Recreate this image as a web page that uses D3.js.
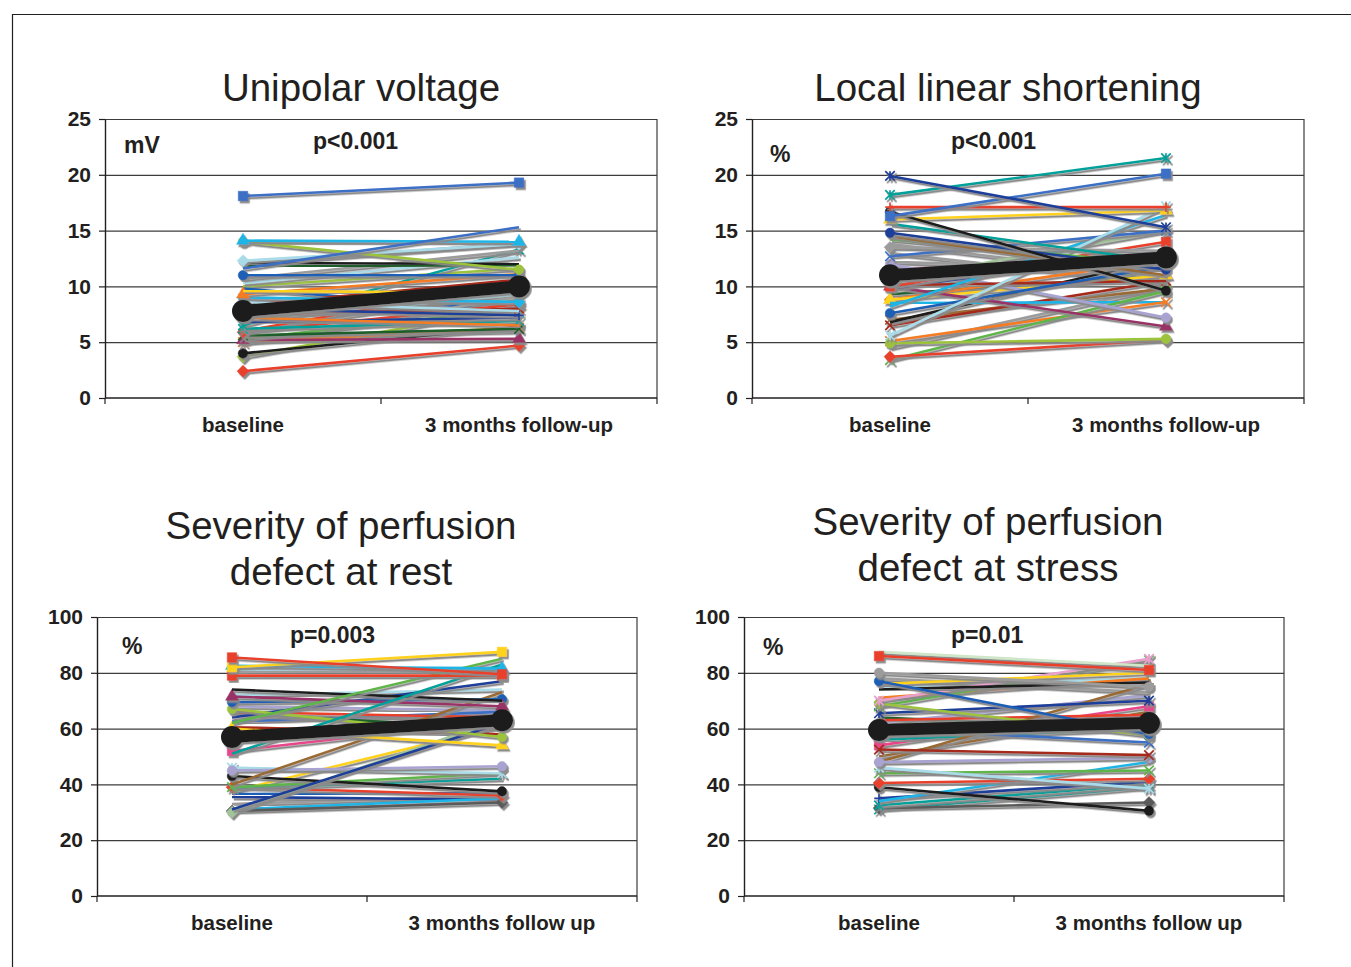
<!DOCTYPE html>
<html>
<head>
<meta charset="utf-8">
<script src="https://cdn.jsdelivr.net/npm/d3@7"></script>
<style>
  body { margin: 0; background: #fff; }
  text { font-family: "Liberation Sans", Arial, sans-serif; fill: #231f20; }
</style>
</head>
<body>
<script>
// categories
const categoriesUp = ['baseline', '3 months follow-up'];
const categoriesPerf = ['baseline', '3 months follow up'];

// tick labels
const ticksSmall = [0, 5, 10, 15, 20, 25];
const ticksPct = [0, 20, 40, 60, 80, 100];

// unipolar voltage (mV), one value per patient
const uniBaseline = [18.1, 11.6, 14.1, 14.0, 13.9, 12.3, 12.1, 11.8, 11.0, 10.7, 10.3, 9.6, 9.3, 9.0, 8.6, 8.3, 8.0, 7.5, 7.2, 6.8,
                     6.5, 6.2, 6.0, 5.9, 5.6, 5.3, 5.2, 5.0, 4.9, 4.0, 3.7, 2.4, 7.0, 6.0, 9.8, 5.5, 8.9, 12.0, 10.0];
const uniFollowUp = [19.3, 15.3, 14.0, 11.5, 13.8, 13.8, 12.0, 11.9, 11.0, 13.2, 12.6, 9.4, 11.1, 8.6, 7.8, 10.6, 7.4, 8.0, 6.5, 7.2,
                     13.3, 6.9, 10.3, 8.4, 6.2, 8.0, 5.3, 6.3, 9.1, 6.4, 8.1, 4.7, 9.3, 9.6, 7.8, 6.0, 8.5, 13.9, 11.6];
const uniMean = [7.8, 10.0];

// local linear shortening (%)
const llsBaseline = [19.9, 18.2, 16.3, 17.1, 16.7, 16.0, 15.6, 14.8, 14.5, 14.2, 13.5, 5.6, 12.7, 8.2, 10.0, 10.6, 7.6, 10.1, 9.8,
                     12.0, 10.0, 4.9, 3.7, 3.4, 5.1, 8.5, 8.8, 8.8, 6.8, 6.5, 13.8, 12.2, 9.3, 11.5, 7.0, 13.0, 4.5];
const llsFollowUp = [15.3, 21.5, 20.1, 17.1, 9.6, 16.8, 12.2, 11.5, 11.0, 12.0, 13.2, 17.2, 15.0, 16.4, 14.0, 15.0, 11.8, 10.5, 13.2,
                     7.2, 6.4, 5.3, 5.2, 9.6, 8.6, 8.6, 11.0, 12.4, 12.5, 10.5, 10.8, 11.5, 11.0, 12.8, 9.8, 10.2, 10.0];
const llsMean = [11.0, 12.6];

// severity of perfusion defect at rest (%)
const restBaseline = [85.5, 82.0, 82.5, 79.0, 62.0, 51.0, 74.0, 71.5, 69.5, 67.0, 64.0, 60.0, 52.0, 40.0, 31.0, 30.0, 45.0, 46.0, 43.0,
                      39.0, 38.5, 39.0, 30.5, 31.0, 36.5, 35.5, 80.5, 81.0, 66.0, 65.5, 62.5, 60.5, 68.0, 63.0, 37.5, 72.0, 33.0];
const restFollowUp = [79.5, 87.5, 81.5, 79.0, 85.0, 83.0, 70.0, 68.0, 70.5, 57.0, 77.0, 54.0, 63.0, 73.0, 62.0, 63.5, 46.5, 44.0, 37.5,
                      44.0, 42.0, 36.0, 33.5, 35.0, 37.0, 34.5, 80.0, 82.0, 64.0, 60.0, 66.0, 58.0, 66.5, 65.0, 61.0, 74.0, 36.0];
const restMean = [57.0, 63.0];

// severity of perfusion defect at stress (%)
const stressBaseline = [86.0, 87.5, 80.0, 77.0, 74.0, 76.0, 70.0, 69.0, 68.0, 65.5, 52.5, 48.0, 48.0, 46.0, 44.0, 40.5, 39.0, 34.0,
                        35.0, 32.5, 31.5, 31.0, 78.0, 71.0, 66.0, 63.0, 60.0, 56.0, 54.0, 57.0, 64.0, 50.0, 62.0, 75.0];
const stressFollowUp = [81.0, 82.5, 75.0, 58.0, 76.5, 80.0, 85.0, 57.5, 84.5, 70.0, 50.5, 49.5, 76.0, 38.5, 45.0, 42.0, 30.5, 48.0,
                        41.0, 40.0, 33.5, 39.0, 73.0, 78.0, 66.0, 65.0, 55.0, 60.0, 68.0, 64.0, 60.0, 66.0, 72.0, 78.0];
const stressMean = [59.5, 62.0];

// series styles (colour key + marker), separate from the values
const palette = {
  B: '#3a6fc4', R: '#e8412c', YG: '#9cc33b', T: '#00a19a', Y: '#ffd21e', K: '#1a1a1a', N: '#1f3f99',
  LB: '#a9dbe8', C: '#1fb5e6', P: '#993366', O: '#f47b20', G: '#5fb548', BR: '#9a6a34', L: '#a9a3d1',
  DG: '#1c5e2a', DR: '#a52a1a', PK: '#e8458b', GR: '#9c9c9c', SB: '#1a5fb4', LG: '#a3c49a', PL: '#e8a0cc',
  DK: '#5a5a5a', LGR: '#cfe6c8'
};
const uniStyle = 'B:square B:none C:triangle YG:circle GR:none LB:diamond K:none DG:none SB:circle GR:none LB:none Y:none O:triangle C:diamond LB:none DR:none N:plus DR:x O:none N:none T:asterisk T:x R:none R:diamond DG:x G:none P:triangle O:asterisk GR:none K:circle YG:diamond R:diamond LB:circle GR:none SB:none GR:none PL:x GR:none YG:none';
const llsStyle = 'N:asterisk T:asterisk B:square R:plus K:circle Y:triangle T:none N:circle BR:none G:none GR:diamond LB:asterisk B:x C:none R:square LG:diamond SB:circle DR:none N:none L:circle P:triangle YG:circle R:diamond G:x O:x C:none Y:triangle O:diamond K:none DR:x GR:none GR:none DG:none PL:none BR:x GR:none GR:none';
const restStyle = 'R:square Y:square C:triangle R:square G:none T:none K:none P:triangle SB:circle YG:circle N:none Y:triangle PK:square BR:none N:none LG:diamond L:circle LB:asterisk K:circle G:x T:none R:diamond DK:diamond C:none SB:none N:none GR:none LB:none R:none DG:none B:none DR:none L:none PL:none Y:none LB:none GR:none';
const stressStyle = 'R:square LGR:none GR:circle SB:circle K:none Y:none PL:asterisk YG:circle G:x N:asterisk DR:x L:circle BR:plus LB:asterisk G:x R:diamond K:circle C:none N:plus T:asterisk DK:diamond T:x GR:none O:none DR:none R:none B:x T:none PK:square P:none DG:none BR:none L:none LB:none';

const panels = [
  { title: ['Unipolar voltage'], titleX: 361, titleY: [101], cats: categoriesUp, base: uniBaseline, follow: uniFollowUp,
    mean: uniMean, style: uniStyle, ticks: ticksSmall, max: 25, unit: 'mV', unitX: 124, unitY: 153, p: 'p<0.001', pX: 313, pY: 149,
    left: 105, right: 657, top: 119, bottom: 398 },
  { title: ['Local linear shortening'], titleX: 1008, titleY: [101], cats: categoriesUp, base: llsBaseline, follow: llsFollowUp,
    mean: llsMean, style: llsStyle, ticks: ticksSmall, max: 25, unit: '%', unitX: 770, unitY: 162, p: 'p<0.001', pX: 951, pY: 149,
    left: 752, right: 1304, top: 119, bottom: 398 },
  { title: ['Severity of perfusion', 'defect at rest'], titleX: 341, titleY: [539, 585], cats: categoriesPerf, base: restBaseline,
    follow: restFollowUp, mean: restMean, style: restStyle, ticks: ticksPct, max: 100, unit: '%', unitX: 122, unitY: 654,
    p: 'p=0.003', pX: 290, pY: 643, left: 97, right: 637, top: 617, bottom: 896 },
  { title: ['Severity of perfusion', 'defect at stress'], titleX: 988, titleY: [535, 581], cats: categoriesPerf, base: stressBaseline,
    follow: stressFollowUp, mean: stressMean, style: stressStyle, ticks: ticksPct, max: 100, unit: '%', unitX: 763, unitY: 655,
    p: 'p=0.01', pX: 951, pY: 643, left: 744, right: 1284, top: 617, bottom: 896 }
];

const svg = d3.select('body').append('svg')
    .attr('width', 1351)
    .attr('height', 967);

svg.append('defs').append('filter')
    .attr('id', 'shadow')
    .attr('x', '-10%').attr('y', '-10%').attr('width', '130%').attr('height', '130%')
  .append('feDropShadow')
    .attr('dx', 1.8).attr('dy', 2.4)
    .attr('stdDeviation', 0.5)
    .attr('flood-color', '#8a8a8a')
    .attr('flood-opacity', 1);

// outer frame
svg.append('path')
    .attr('d', 'M12.5,967V14.5H1351')
    .attr('fill', 'none')
    .attr('stroke', '#231f20')
    .attr('stroke-width', 1.2);

function markerPath(type, s) {
  const r = s / 2;
  switch (type) {
    case 'square': return d3.symbol(d3.symbolSquare, s * s)();
    case 'diamond': return `M0,${-r * 1.25}L${r * 1.25},0L0,${r * 1.25}L${-r * 1.25},0Z`;
    case 'triangle': return d3.symbol(d3.symbolTriangle, s * s * 0.8)();
    case 'circle': return d3.symbol(d3.symbolCircle, s * s * 0.8)();
    case 'x': return `M${-r},${-r}L${r},${r}M${-r},${r}L${r},${-r}`;
    case 'plus': return `M${-r},0H${r}M0,${-r}V${r}`;
    case 'asterisk': return `M${-r},${-r}L${r},${r}M${-r},${r}L${r},${-r}M0,${-r}V${r}`;
  }
  return null;
}
const stroked = { x: true, plus: true, asterisk: true };

panels.forEach(p => {
  const g = svg.append('g');
  const x = d3.scaleBand().domain(p.cats).range([p.left, p.right]);
  const y = d3.scaleLinear().domain([0, p.max]).range([p.bottom, p.top]);
  const cx = c => x(c) + x.bandwidth() / 2;

  // gridlines
  g.append('g')
      .attr('transform', `translate(${p.left},0)`)
      .call(d3.axisLeft(y).tickValues(p.ticks.slice(1)).tickSize(-(p.right - p.left)).tickFormat(''))
      .call(a => a.select('.domain').remove())
      .call(a => a.selectAll('line').attr('stroke', '#3c3c3c').attr('stroke-width', 1.2));

  // plot border right side
  g.append('line')
      .attr('x1', p.right).attr('x2', p.right)
      .attr('y1', p.top).attr('y2', p.bottom)
      .attr('stroke', '#3c3c3c').attr('stroke-width', 1.2);

  // y axis
  g.append('g')
      .attr('transform', `translate(${p.left},0)`)
      .call(d3.axisLeft(y).tickValues(p.ticks).tickSize(6).tickSizeOuter(0).tickPadding(8))
      .call(a => a.select('.domain').attr('stroke', '#231f20').attr('stroke-width', 1.4))
      .call(a => a.selectAll('line').attr('stroke', '#231f20').attr('stroke-width', 1.2))
      .call(a => a.selectAll('text').attr('font-size', 21).attr('font-weight', 'bold')
          .attr('font-family', '"Liberation Sans", Arial, sans-serif').attr('fill', '#231f20'));

  // x axis with ticks between categories
  const bounds = p.cats.map(c => x(c)).concat([x.range()[1]]);
  g.append('line')
      .attr('x1', p.left).attr('x2', p.right)
      .attr('y1', p.bottom).attr('y2', p.bottom)
      .attr('stroke', '#231f20').attr('stroke-width', 1.6);
  g.selectAll('.xtick').data(bounds).enter().append('line')
      .attr('x1', d => d).attr('x2', d => d)
      .attr('y1', p.bottom).attr('y2', p.bottom + 6)
      .attr('stroke', '#231f20').attr('stroke-width', 1.2);
  g.selectAll('.xlab').data(p.cats).enter().append('text')
      .attr('x', d => cx(d))
      .attr('y', p.bottom + 34)
      .attr('text-anchor', 'middle')
      .attr('font-size', 20.5).attr('font-weight', 'bold')
      .text(d => d);

  // titles and annotations
  g.selectAll('.title').data(p.title).enter().append('text')
      .attr('x', p.titleX)
      .attr('y', (d, i) => p.titleY[i])
      .attr('text-anchor', 'middle')
      .attr('font-size', 38.5)
      .text(d => d);
  g.append('text').attr('x', p.unitX).attr('y', p.unitY)
      .attr('font-size', 23).attr('font-weight', 'bold').text(p.unit);
  g.append('text').attr('x', p.pX).attr('y', p.pY)
      .attr('font-size', 23).attr('font-weight', 'bold').text(p.p);

  // patient series
  const styles = p.style.split(' ').map(s => s.split(':'));
  const series = p.base.map((b, i) => ({ values: [b, p.follow[i]], color: palette[styles[i][0]], marker: styles[i][1] }));
  const line = d3.line().x((d, i) => cx(p.cats[i])).y(d => y(d));

  const sg = g.selectAll('.series').data(series.slice().reverse()).enter().append('g')
      .attr('filter', 'url(#shadow)');
  sg.append('path')
      .attr('d', d => line(d.values))
      .attr('fill', 'none')
      .attr('stroke', d => d.color)
      .attr('stroke-width', 2.6);
  sg.each(function (d) {
    if (d.marker === 'none') return;
    const path = markerPath(d.marker, 9.5);
    d3.select(this).selectAll('.m').data(d.values).enter().append('path')
        .attr('transform', (v, i) => `translate(${cx(p.cats[i])},${y(v)})`)
        .attr('d', path)
        .attr('fill', stroked[d.marker] ? 'none' : d.color)
        .attr('stroke', d.color)
        .attr('stroke-width', stroked[d.marker] ? 1.7 : 0.5);
  });

  // mean line
  const mg = g.append('g').attr('filter', 'url(#shadow)');
  mg.append('path')
      .attr('d', line(p.mean))
      .attr('fill', 'none')
      .attr('stroke', '#1e1c1d')
      .attr('stroke-width', 12);
  mg.selectAll('circle').data(p.mean).enter().append('circle')
      .attr('cx', (v, i) => cx(p.cats[i]))
      .attr('cy', v => y(v))
      .attr('r', 11)
      .attr('fill', '#1e1c1d');
});
</script>
</body>
</html>
